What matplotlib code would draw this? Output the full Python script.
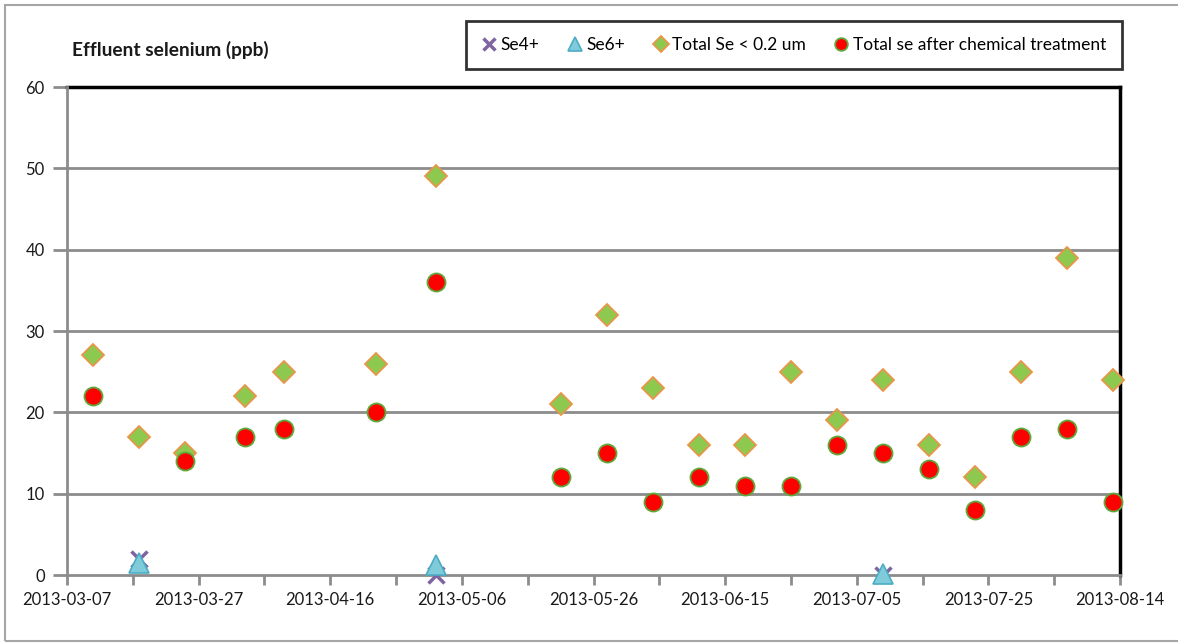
import matplotlib
matplotlib.use("Agg")
import matplotlib.pyplot as plt
import matplotlib.dates as mdates
import numpy as np
import datetime as dt
from matplotlib.patches import Rectangle

plt.rcParams['font.family'] = ['Lato', 'DejaVu Sans']

# ---- data ----
dates_total = ["2013-03-11", "2013-03-18", "2013-03-25", "2013-04-03", "2013-04-09",
               "2013-04-23", "2013-05-02", "2013-05-21", "2013-05-28", "2013-06-04",
               "2013-06-11", "2013-06-18", "2013-06-25", "2013-07-02", "2013-07-09",
               "2013-07-16", "2013-07-23", "2013-07-30", "2013-08-06", "2013-08-13"]
total_se_02 = [27, 17, 15, 22, 25, 26, 49, 21, 32, 23, 16, 16, 25, 19, 24, 16, 12, 25, 39, 24]

dates_chem = ["2013-03-11", "2013-03-25", "2013-04-03", "2013-04-09",
              "2013-04-23", "2013-05-02", "2013-05-21", "2013-05-28", "2013-06-04",
              "2013-06-11", "2013-06-18", "2013-06-25", "2013-07-02", "2013-07-09",
              "2013-07-16", "2013-07-23", "2013-07-30", "2013-08-06", "2013-08-13"]
total_se_chem = [22, 14, 17, 18, 20, 36, 12, 15, 9, 12, 11, 11, 16, 15, 13, 8, 17, 18, 9]

dates_spec = ["2013-03-18", "2013-05-02", "2013-07-09"]
se4 = [2.0, 0.0, 0.0]
se6 = [1.5, 1.2, 0.1]

x_start, x_end = "2013-03-07", "2013-08-14"

def to_dt(lst):
    return [dt.datetime.strptime(s, "%Y-%m-%d") for s in lst]

W, H, DPI = 1178, 643, 100
fig = plt.figure(figsize=(W / DPI, H / DPI), dpi=DPI)
ax = fig.add_axes([67 / W, 1 - 575 / H, (1120 - 67) / W, (575 - 87) / H])

# outer chart border
fig.patches.append(Rectangle((5 / W, 2 / H), 1.2, (641 - 5) / H, transform=fig.transFigure,
                             fill=False, edgecolor='#a6a6a6', linewidth=1.5))

grid_c = '#8c8c8c'
for yv in range(10, 60, 10):
    ax.axhline(yv, color=grid_c, linewidth=2, zorder=1)

ax.plot(to_dt(dates_spec), se4, linestyle='none', marker='x', markersize=12,
        markeredgewidth=2.5, color='#8064A2', zorder=4, label='Se4+', clip_on=False)
ax.plot(to_dt(dates_spec), se6, linestyle='none', marker='^', markersize=14,
        markerfacecolor='#7FCBD9', markeredgecolor='#4BACC6', markeredgewidth=1.2,
        zorder=5, label='Se6+', clip_on=False)
ax.plot(to_dt(dates_total), total_se_02, linestyle='none', marker='D', markersize=11,
        markerfacecolor='#8DC94F', markeredgecolor='#E8974A', markeredgewidth=1.3,
        zorder=3, label='Total Se < 0.2 um', clip_on=False)
ax.plot(to_dt(dates_chem), total_se_chem, linestyle='none', marker='o', markersize=13,
        markerfacecolor='#FF0000', markeredgecolor='#5FA83A', markeredgewidth=1.3,
        zorder=3, label='Total se after chemical treatment', clip_on=False)

x0 = dt.datetime.strptime(x_start, "%Y-%m-%d")
x1 = dt.datetime.strptime(x_end, "%Y-%m-%d")
ax.set_xlim(x0, x1)
ax.set_ylim(0, 60)

major = [x0 + dt.timedelta(days=20 * i) for i in range(9)]
minor = [x0 + dt.timedelta(days=10 * i) for i in range(17)]
ax.set_xticks(major)
ax.set_xticks(minor, minor=True)
ax.xaxis.set_major_formatter(mdates.DateFormatter('%Y-%m-%d'))
ax.set_yticks(range(0, 61, 10))

for s in ['left', 'bottom']:
    ax.spines[s].set_color(grid_c)
    ax.spines[s].set_linewidth(2)
for s in ['top', 'right']:
    ax.spines[s].set_color('black')
    ax.spines[s].set_linewidth(2.5)
ax.spines['top'].set_zorder(2)

ax.tick_params(axis='both', which='both', direction='out', color=grid_c, width=2,
               labelsize=12, labelcolor='#1a1a1a')
ax.tick_params(axis='y', length=10, pad=6)
ax.tick_params(axis='x', which='both', length=7, pad=5)

fig.text(72 / W, 1 - 50 / H, 'Effluent selenium (ppb)', fontsize=13.8, fontweight='bold',
         ha='left', va='center', color='#1a1a1a')

leg = fig.legend(loc='center', bbox_to_anchor=((465 + 1123) / 2 / W, 1 - 45 / H),
                 ncol=4, fontsize=12.5, frameon=True, fancybox=False,
                 handlelength=0.8, handletextpad=0.25, columnspacing=1.65,
                 borderpad=0.95, markerscale=0.7)
leg.get_frame().set_edgecolor('black')
leg.get_frame().set_linewidth(2)

fig.savefig('out.png', dpi=DPI)
